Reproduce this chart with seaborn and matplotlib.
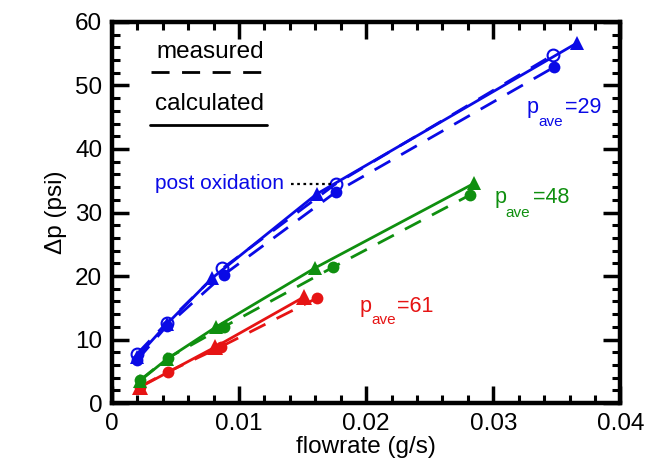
import matplotlib
matplotlib.use("Agg")
import matplotlib.pyplot as plt
import seaborn as sns
from matplotlib.ticker import MultipleLocator

sns.set_style("ticks")
plt.rcParams['font.family'] = ['Liberation Sans', 'DejaVu Sans']
plt.rcParams['text.color'] = 'black'
plt.rcParams['axes.labelcolor'] = 'black'
plt.rcParams['xtick.color'] = 'black'
plt.rcParams['ytick.color'] = 'black'

# p_ave = 29 psi
flow_29_meas = [0.0020, 0.0043, 0.0088, 0.0176, 0.0348]
dp_29_meas = [6.8, 12.1, 20.2, 33.2, 52.9]
flow_29_post = [0.0020, 0.0043, 0.0087, 0.0176, 0.0347]
dp_29_post = [7.8, 12.6, 21.2, 34.5, 54.8]
flow_29_calc = [0.0020, 0.0043, 0.0079, 0.0161, 0.0366]
dp_29_calc = [7.3, 12.4, 19.7, 32.9, 56.7]

# p_ave = 48 psi
flow_48_meas = [0.0022, 0.0044, 0.0088, 0.0174, 0.0282]
dp_48_meas = [3.6, 7.1, 12.0, 21.4, 32.8]
flow_48_calc = [0.0022, 0.0043, 0.0082, 0.0160, 0.0285]
dp_48_calc = [3.5, 6.9, 12.0, 21.3, 34.6]

# p_ave = 61 psi
flow_61_meas = [0.0022, 0.0044, 0.0086, 0.0161]
dp_61_meas = [2.6, 4.9, 8.9, 16.5]
flow_61_calc = [0.0022, 0.0081, 0.0151]
dp_61_calc = [2.5, 8.8, 16.7]

x_ticks = [0, 0.01, 0.02, 0.03, 0.04]
x_tick_labels = ["0", "0.01", "0.02", "0.03", "0.04"]
y_ticks = [0, 10, 20, 30, 40, 50, 60]

BLUE = "#0a0ae6"
GREEN = "#0f8f0f"
RED = "#e61414"
DASH = (0, (6.5, 4.5))
LW = 2.0

fig = plt.figure(figsize=(6.58, 4.65), dpi=100)
ax = fig.add_axes([0.170, 0.133, 0.773, 0.820])

def draw(x, y, color, style, marker, ms, open_marker=False):
    sns.lineplot(x=x, y=y, ax=ax, color=color, linestyle=style, linewidth=LW,
                 marker=marker, markersize=ms,
                 markerfacecolor="none" if open_marker else color,
                 markeredgecolor=color, markeredgewidth=1.5 if open_marker else 0,
                 sort=False, estimator=None)

draw(flow_61_calc, dp_61_calc, RED, "-", "^", 12)
draw(flow_61_meas, dp_61_meas, RED, DASH, "o", 8.5)
draw(flow_48_calc, dp_48_calc, GREEN, "-", "^", 9.5)
draw(flow_48_meas, dp_48_meas, GREEN, DASH, "o", 8.5)
draw(flow_29_calc, dp_29_calc, BLUE, "-", "^", 9.5)
draw(flow_29_post, dp_29_post, BLUE, DASH, "o", 8.5, open_marker=True)
draw(flow_29_meas, dp_29_meas, BLUE, DASH, "o", 8.5)

ax.set_xlim(0, 0.04)
ax.set_ylim(0, 60)
ax.set_xticks(x_ticks)
ax.set_xticklabels(x_tick_labels)
ax.set_yticks(y_ticks)
ax.xaxis.set_minor_locator(MultipleLocator(0.002))
ax.yaxis.set_minor_locator(MultipleLocator(2))
ax.tick_params(which="both", direction="in", top=True, right=True,
               labelsize=17.5, pad=7)
ax.tick_params(which="major", length=12, width=2.5)
ax.tick_params(which="minor", length=6, width=2.2)
for s in ax.spines.values():
    s.set_linewidth(3.2)
    s.set_color("black")

ax.set_xlabel("flowrate (g/s)", fontsize=17.5, labelpad=1)
ax.set_ylabel("\u0394p (psi)", fontsize=17.5, labelpad=6)

# line style key
ax.text(0.0077, 55.3, "measured", fontsize=17.5, ha="center", va="center")
ax.plot([0.0031, 0.0124], [52.1, 52.1], color="black", lw=LW, linestyle=DASH)
ax.text(0.0077, 47.1, "calculated", fontsize=17.5, ha="center", va="center")
ax.plot([0.0030, 0.0122], [43.8, 43.8], color="black", lw=LW)

# annotations
ax.text(0.0034, 34.5, "post oxidation", fontsize=15, color=BLUE, ha="left", va="center")
ax.plot([0.0141, 0.0172], [34.5, 34.5], color="black", lw=1.6, linestyle=(0, (1.2, 1.6)))

def p_ave(x_p, x_sub, x_eq, y_base, y_sub, value, color):
    ax.text(x_p, y_base, "p", fontsize=15.5, color=color, ha="left", va="baseline")
    ax.text(x_sub, y_sub, "ave", fontsize=11, color=color, ha="left", va="baseline")
    ax.text(x_eq, y_base, "=" + value, fontsize=15.5, color=color, ha="left", va="baseline")

p_ave(0.03263, 0.03357, 0.03561, 45.7, 43.6, "29", BLUE)
p_ave(0.03012, 0.03098, 0.03310, 31.5, 29.3, "48", GREEN)
p_ave(0.01945, 0.02039, 0.02243, 14.3, 12.4, "61", RED)

fig.savefig("out.png", dpi=100)
